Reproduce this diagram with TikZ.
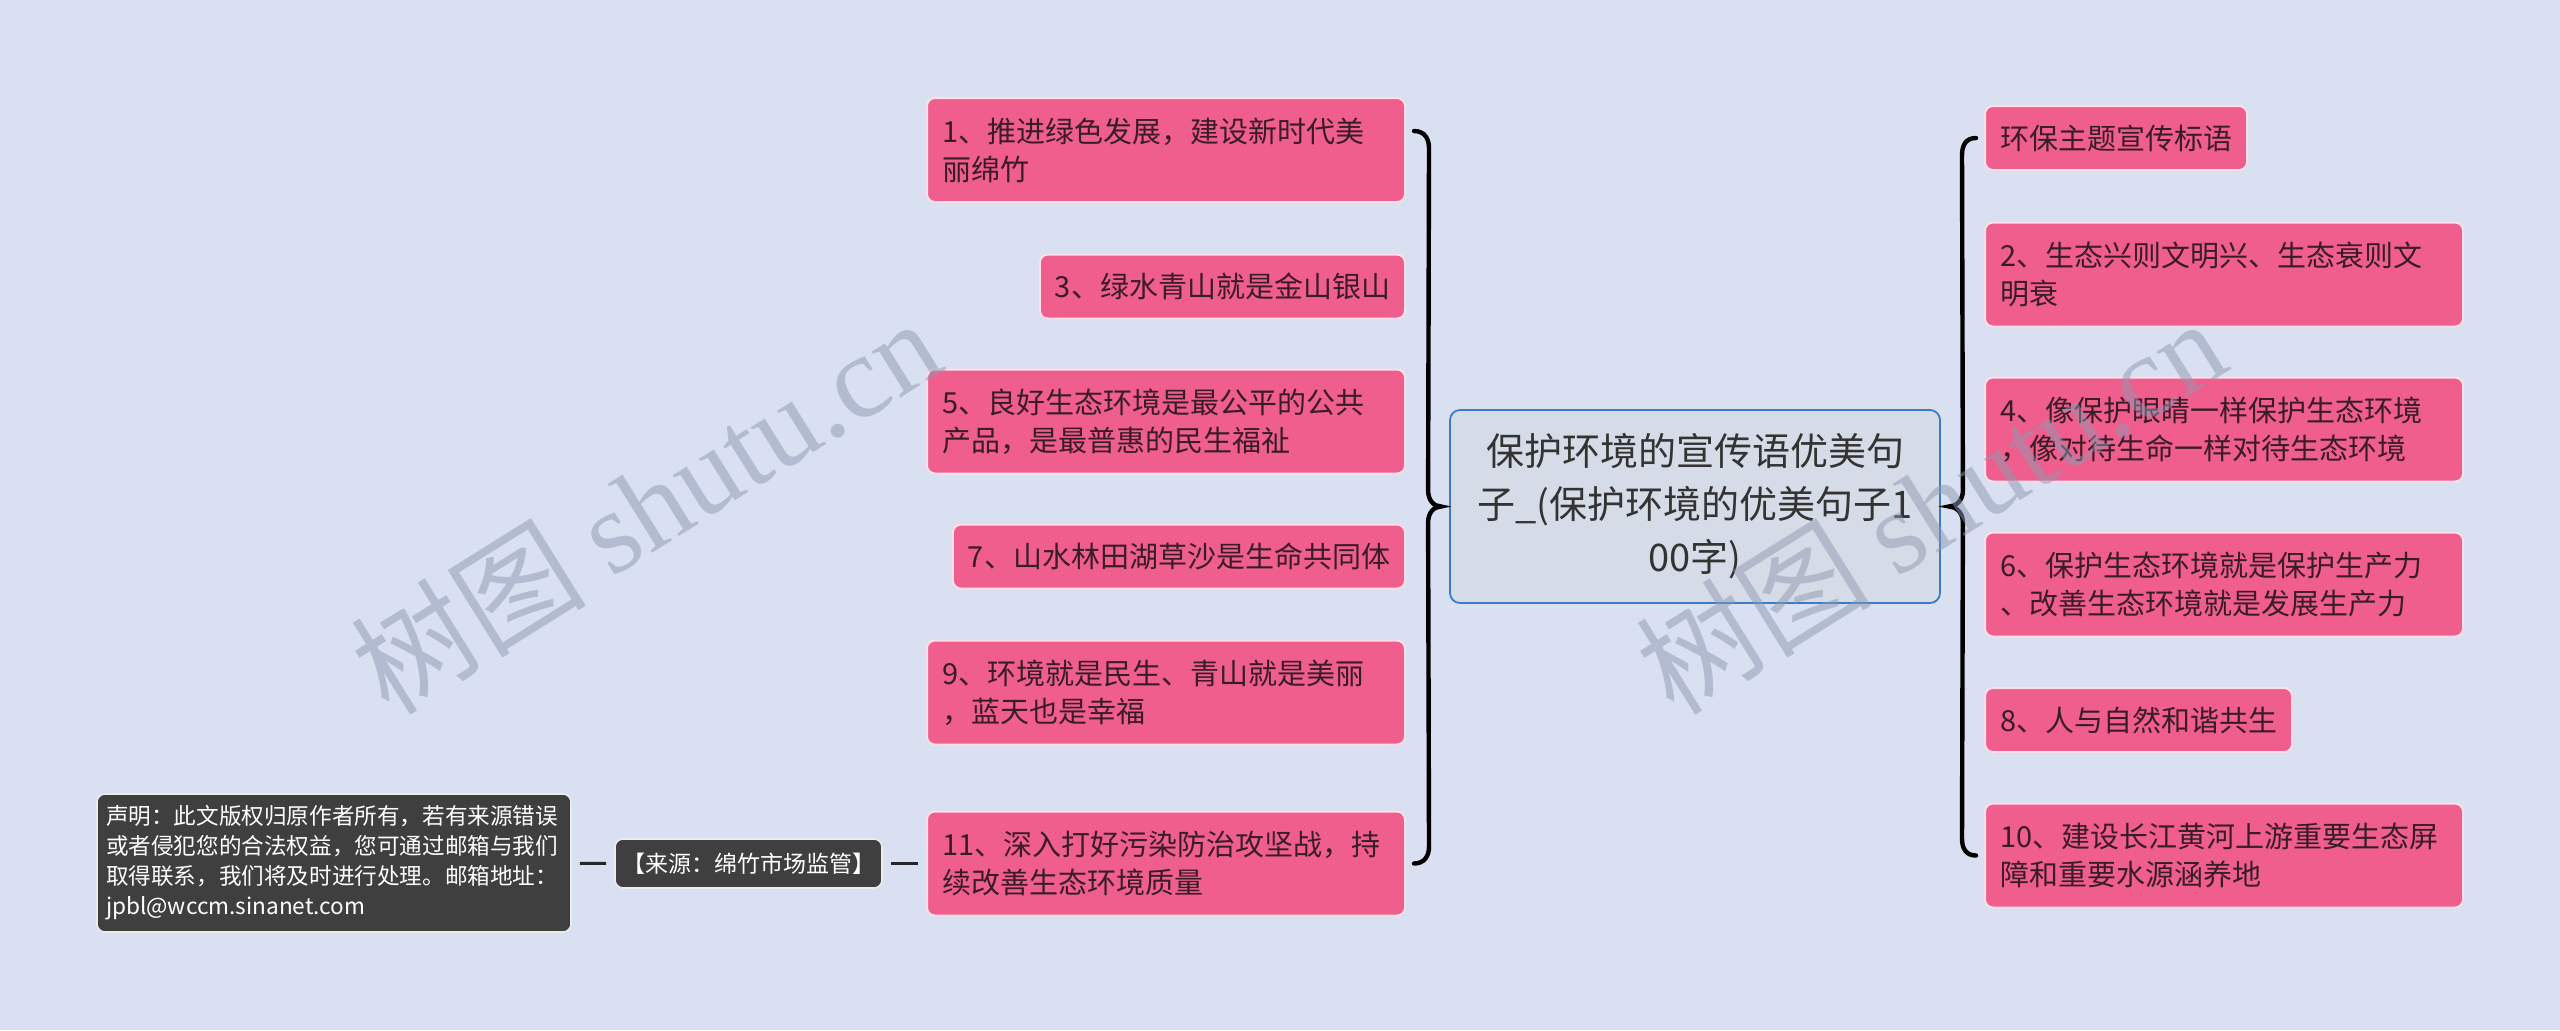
\documentclass[tikz,border=0pt]{standalone}
\usepackage{fontspec}
\setmainfont{Noto Sans CJK SC}
\newfontfamily\wmlatin{Liberation Serif}
\usepackage{tikz}
\usetikzlibrary{calc}
\usepackage{xcolor}
\definecolor{mapbg}{HTML}{D9E0F1}
\definecolor{leafpink}{HTML}{EF5E8D}
\definecolor{leaftext}{HTML}{3A1C27}
\definecolor{rootfill}{HTML}{D5DCE7}
\definecolor{rootline}{HTML}{3A7CC6}
\definecolor{notedark}{HTML}{3F3F3F}
\definecolor{wmgray}{HTML}{8E98B0}

\begin{document}
\begin{tikzpicture}[
  x=0.5pt, y=-0.5pt,
  leaf/.style={draw=white!80!leafpink, line width=1pt, fill=leafpink,
    rounded corners=4pt, text=leaftext, align=left,
    font=\fontsize{14.5}{19}\selectfont,
    inner xsep=7.5pt, inner ysep=0pt, minimum height=32pt},
  wide/.style={leaf, text width=224pt, minimum height=52pt},
  root/.style={draw=rootline, line width=0.9pt, fill=rootfill,
    rounded corners=5pt, text=black!80, align=center,
    font=\fontsize{19}{26.5}\selectfont,
    inner xsep=2pt, minimum width=245pt, minimum height=96.5pt},
  note/.style={draw=white!90!notedark, line width=0.8pt, fill=notedark,
    rounded corners=4pt, text=white, align=left,
    font=\fontsize{11.3}{15}\selectfont, inner ysep=0pt},
  brace/.style={line width=2.2pt, line cap=round},
  link/.style={line width=1.5pt, black!85, shorten <=4pt, shorten >=4pt},
  wmark/.style={rotate=32, text=wmgray, text opacity=0.5,
    font=\fontsize{59}{64}\selectfont}
]
  \useasboundingbox (0,0) rectangle (2560,1030);
  \fill[mapbg] (0,0) rectangle (2560,1030);

  % Root
  \node[root] (root) at (1695,506.5)
    {保护环境的宣传语优美句\\子\_(保护环境的优美句子1\\00字)};

  % Left branches
  \foreach \n/\yc/\sty/\txt in {
    B1/150/wide/{1、推进绿色发展，建设新时代美\\丽绵竹},
    B3/286.5/leaf/{3、绿水青山就是金山银山},
    B5/421.5/wide/{5、良好生态环境是最公平的公共\\产品，是最普惠的民生福祉},
    B7/556.5/leaf/{7、山水林田湖草沙是生命共同体},
    B9/692.5/wide/{9、环境就是民生、青山就是美丽\\，蓝天也是幸福},
    B11/863.5/wide/{11、深入打好污染防治攻坚战，持\\续改善生态环境质量}} {
    \node[\sty, anchor=east] (\n) at (1406,\yc) {\txt};
  }

  % Right branches
  \foreach \n/\yc/\sty/\txt in {
    R0/138/leaf/{环保主题宣传标语},
    R2/274.5/wide/{2、生态兴则文明兴、生态衰则文\\明衰},
    R4/429.5/wide/{4、像保护眼睛一样保护生态环境\\，像对待生命一样对待生态环境},
    R6/584.5/wide/{6、保护生态环境就是保护生产力\\、改善生态环境就是发展生产力},
    R8/720/leaf/{8、人与自然和谐共生},
    R10/855.5/wide/{10、建设长江黄河上游重要生态屏\\障和重要水源涵养地}} {
    \node[\sty, anchor=west] (\n) at (1984,\yc) {\txt};
  }

  % Source and note
  \node[note, font=\fontsize{11.5}{13}\selectfont, inner xsep=3.5pt,
    minimum height=24.5pt] (src) at (748.5,863.5) {【来源：绵竹市场监管】};
  \node[note, text width=228pt, inner xsep=4.5pt, minimum height=69pt]
    (decl) at (334,863)
    {声明：此文版权归原作者所有，若有来源错误\\或者侵犯您的合法权益，您可通过邮箱与我们\\取得联系，我们将及时进行处理。邮箱地址：\\jpbl@wccm.sinanet.com};

  \draw[link] (decl) -- (src);
  \draw[link] (src) -- (B11);

  % Braces
  \coordinate (lbtop) at ($(B1.east)+(8,-19)$);
  \coordinate (lbbot) at ($(B11.east)+(8,0)$);
  \coordinate (lbtip) at ($(root.west)+(-8,0)$);
  \draw[brace] (lbtop) .. controls +(10,0) and +(0,-10) .. ($(lbtop)+(15,17)$)
    -- ($(lbtip)+(-13,-16)$) .. controls +(0,10) and +(-7,0) .. (lbtip)
    .. controls +(-7,0) and +(0,-10) .. ($(lbtip)+(-13,16)$)
    -- ($(lbbot)+(15,-17)$) .. controls +(0,10) and +(10,0) .. (lbbot);

  \coordinate (rbtop) at ($(R0.west)+(-8,0)$);
  \coordinate (rbbot) at ($(R10.west)+(-8,0)$);
  \coordinate (rbtip) at ($(root.east)+(8,0)$);
  \draw[brace] (rbtop) .. controls +(-10,0) and +(0,-10) .. ($(rbtop)+(-14,17)$)
    -- ($(rbtip)+(14,-16)$) .. controls +(0,10) and +(7,0) .. (rbtip)
    .. controls +(7,0) and +(0,-10) .. ($(rbtip)+(14,16)$)
    -- ($(rbbot)+(-14,-17)$) .. controls +(0,10) and +(-10,0) .. (rbbot);

  % Watermarks
  \node[wmark] (wm1) at (645,505) {树图 {\wmlatin shutu.cn}};
  \node[wmark] (wm2) at (1930,505) {树图 {\wmlatin shutu.cn}};
\end{tikzpicture}
\end{document}
